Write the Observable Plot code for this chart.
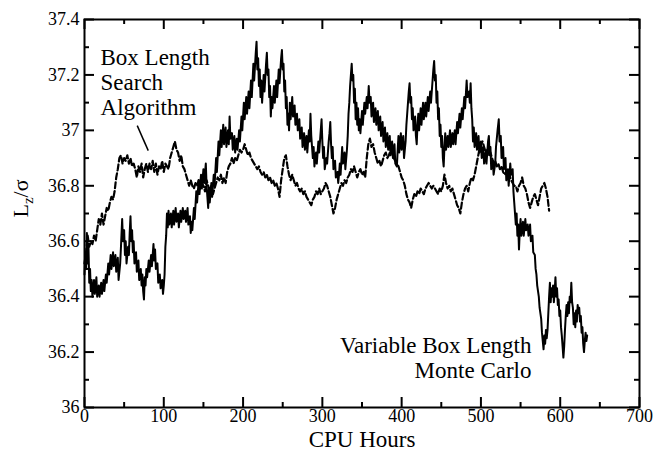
<!DOCTYPE html>
<html><head><meta charset="utf-8">
<script src="https://cdn.jsdelivr.net/npm/d3@7"></script>
<script src="https://cdn.jsdelivr.net/npm/@observablehq/plot@0.6"></script>
<style>body{margin:0;background:#fff}</style>
</head><body><div id="chart"></div>
<script>
// Variable Box Length Monte Carlo (solid)
const mcHours = [0,1,2,3,4,5,6,7,8,9,10,12,13,15,16,18,19,21,22,24,25,27,28,30,31,33,34,36,37,39,40,42,43,45,46,47.5,48.5,50,51,52,53,55,56,57,58,59,60,61,62,63,65,66,68,69,71,72,73,74,75,76,77,78,79,81,82,84,85,87,88,89,90,92,93,95,96,98,99,100,101,102,103,104,105,106,107,109,110,112,113,115,116,118,119,121,122,124,125,127,128,130,131,133,134,135,136,138,139,141,142,144,145,147,148,150,151,153,154,155,156,157,158,160,161,163,164,166,167,169,170,172,173,175,176,178,179,181,182,183,184,186,187,189,190,192,193,195,196,198,199,201,202,204,205,207,208,210,211,213,214,216,217,218,219,220,221,222,223,224,226,227,229,230,231,232,233,234,235,236,237,239,240,242,243,245,246,248,249,250,251,252,253,254,255,256,257,258,259,260,262,263,265,266,268,269,271,272,274,275,277,278,280,281,283,284,285,286,287,288,289,290,292,293,295,296,298,299,300,301,302,303,305,306,308,309,310,311,312,313,314,316,317,319,320,321,322,323,325,326,328,329,331,332,333,334,335,336,337,338,339,340,341,342,343,344,345,346,347,348,350,351,353,354,356,357,358.5,359.5,361,362,364,365,367,368,370,371,373,374,376,377,379,380,382,383,385,386,388,389,391,392,394,395,396,397,399,400,402,403,405,406,408,409,410,411,412,413,414,415,417,418,419,420,421,422,424,425,427,428,430,431,433,434,436,437,439,440,441,442,443,444,445,446,447,448,449,450,451,452,453,454,455,456,458,459,461,462,464,465,467,468,470,471,473,474,476,477,479,480,482,483,485,486,487,488,489,490,491,492,494,495,497,498,500,501,503,504,506,507,509,510,511,512,513,515,516,518,519,521,522.5,523.5,525,526,528,529,531,532,534,535,537,538,540,541,542,543,544,545,546,547,548,549,550,551,553,554,556,557,559,560,562,563,565,566,568,569,570,571,573,574,576,577,578,579,580,581,582,583,584,585,586,587,588,589,590,591,592,593,594,595,596,597,598,599,600,601,602,603,604,605,606,607,608,609,610,611,612,613,614,615,616,617,618,619,620,621,622,623,624,625,626,627,628,629,630,631,632,633,634];
const mcLz = [36.48,36.56,36.50,36.63,36.52,36.58,36.45,36.50,36.42,36.46,36.40,36.46,36.41,36.47,36.40,36.44,36.40,36.45,36.41,36.46,36.42,36.48,36.45,36.52,36.48,36.55,36.50,36.56,36.51,36.55,36.49,36.54,36.46,36.52,36.58,36.68,36.60,36.64,36.55,36.60,36.52,36.58,36.55,36.63,36.69,36.60,36.64,36.56,36.60,36.52,36.56,36.49,36.53,36.46,36.50,36.44,36.48,36.42,36.39,36.47,36.44,36.50,36.47,36.53,36.49,36.55,36.51,36.59,36.53,36.57,36.50,36.52,36.45,36.48,36.43,36.46,36.41,36.44,36.48,36.58,36.62,36.70,36.65,36.71,36.66,36.70,36.65,36.71,36.66,36.72,36.67,36.70,36.65,36.71,36.67,36.72,36.68,36.71,36.67,36.72,36.66,36.69,36.63,36.67,36.64,36.72,36.68,36.78,36.74,36.82,36.77,36.84,36.79,36.86,36.81,36.88,36.80,36.76,36.72,36.79,36.74,36.81,36.76,36.84,36.80,36.90,36.85,36.96,36.91,37.00,36.94,37.02,36.95,37.01,36.94,37.00,36.95,37.05,36.97,36.99,36.93,36.98,36.92,36.97,36.93,37.00,36.96,37.05,37.00,37.10,37.04,37.12,37.06,37.14,37.08,37.18,37.12,37.24,37.18,37.28,37.32,37.22,37.26,37.16,37.22,37.12,37.18,37.10,37.20,37.14,37.24,37.28,37.20,37.22,37.12,37.16,37.05,37.12,37.08,37.16,37.10,37.18,37.12,37.22,37.17,37.26,37.29,37.22,37.24,37.14,37.18,37.08,37.12,37.02,37.06,37.00,37.10,37.04,37.12,37.05,37.09,37.02,37.06,37.00,37.04,36.97,37.01,36.94,36.99,36.93,36.98,36.92,37.00,36.96,37.06,36.98,36.94,36.90,36.94,36.87,36.92,36.88,36.96,36.92,37.00,37.04,36.96,36.90,36.94,36.86,36.90,36.88,36.96,36.99,37.03,36.95,36.90,36.94,36.86,36.89,36.83,36.85,36.81,36.84,36.88,36.84,36.94,36.88,36.92,36.86,36.93,36.98,37.06,37.10,37.16,37.20,37.24,37.18,37.20,37.10,37.15,37.04,37.10,37.02,37.08,37.00,37.04,36.99,37.07,37.02,37.10,37.06,37.12,37.08,37.16,37.10,37.12,37.05,37.10,37.03,37.08,37.02,37.07,37.00,37.05,36.98,37.03,36.96,37.01,36.94,36.99,36.93,36.98,36.91,36.96,36.90,36.95,36.88,36.87,36.93,36.98,36.92,36.99,36.93,36.98,36.90,36.96,37.02,37.10,37.14,37.17,37.10,37.12,37.04,37.08,37.00,37.05,36.98,36.95,37.02,37.06,37.00,37.08,37.02,37.10,37.04,37.10,37.05,37.12,37.07,37.14,37.10,37.18,37.22,37.25,37.18,37.20,37.10,37.14,37.04,37.08,36.98,37.02,36.94,36.98,36.90,36.87,36.94,36.99,36.93,36.98,36.94,37.00,36.94,36.99,36.95,37.00,36.95,37.03,36.99,37.06,37.01,37.08,37.04,37.12,37.08,37.18,37.12,37.14,37.10,37.17,37.08,37.04,36.96,37.01,36.94,36.99,36.93,36.98,36.92,36.96,36.90,36.94,36.88,36.92,36.88,36.96,36.98,36.91,36.94,36.86,36.89,36.84,36.88,36.94,37.00,37.04,36.96,36.98,36.90,36.94,36.86,36.90,36.82,36.86,36.80,36.88,36.84,36.86,36.78,36.74,36.70,36.66,36.70,36.62,36.66,36.57,36.64,36.68,36.62,36.67,36.62,36.68,36.64,36.66,36.62,36.66,36.60,36.62,36.56,36.55,36.50,36.48,36.44,36.40,36.36,36.32,36.27,36.24,36.21,36.26,36.23,36.28,36.25,36.28,36.34,36.40,36.45,36.38,36.43,36.40,36.44,36.38,36.42,36.47,36.40,36.43,36.37,36.39,36.33,36.35,36.29,36.26,36.22,36.18,36.22,36.28,36.33,36.37,36.33,36.38,36.34,36.40,36.38,36.45,36.38,36.36,36.30,36.34,36.29,36.35,36.31,36.37,36.34,36.36,36.31,36.33,36.27,36.29,36.23,36.20,36.24,36.27,36.24,36.26];

// Box Length Search Algorithm (dashed)
const blsHours = [0,2,4,6,8,10,12,14,16,18,20,22,24,26,28,30,32,34,36,38,40,42,44,46,48,50,52,54,56,58,60,62,64,66,68,70,72,74,76,78,80,82,84,86,88,90,92,94,96,98,100,102,104,106,108,110,112,114,116,118,120,122,124,126,128,130,132,134,136,138,140,142,144,146,148,150,152,154,156,158,160,162,164,166,168,170,172,174,176,178,180,182,184,186,188,190,192,194,196,198,200,202,204,206,208,210,212,214,216,218,220,222,224,226,228,230,232,234,236,238,240,242,244,246,248,250,252,254,256,258,260,262,264,266,268,270,272,274,276,278,280,282,284,286,288,290,292,294,296,298,300,302,304,306,308,310,312,314,316,318,320,322,324,326,328,330,332,334,336,338,340,342,344,346,348,350,352,354,356,358,360,362,364,366,368,370,372,374,376,378,380,382,384,386,388,390,392,394,396,398,400,402,404,406,408,410,412,414,416,418,420,422,424,426,428,430,432,434,436,438,440,442,444,446,448,450,452,454,456,458,460,462,464,466,468,470,472,474,476,478,480,482,484,486,488,490,492,494,496,498,500,502,504,506,508,510,512,514,516,518,520,522,524,526,528,530,532,534,536,538,540,542,544,546,548,550,552,554,556,558,560,562,564,566,568,570,572,574,576,578,580,582,584,586];
const blsLz = [36.52,36.56,36.62,36.58,36.60,36.59,36.62,36.60,36.64,36.68,36.66,36.70,36.66,36.69,36.72,36.71,36.74,36.76,36.75,36.78,36.83,36.86,36.90,36.91,36.88,36.90,36.89,36.91,36.88,36.90,36.87,36.88,36.86,36.83,36.87,36.85,36.88,36.83,36.86,36.88,36.85,36.88,36.86,36.89,36.85,36.88,36.84,36.87,36.86,36.89,36.85,36.88,36.87,36.86,36.90,36.92,36.94,36.96,36.93,36.92,36.89,36.91,36.87,36.86,36.84,36.82,36.80,36.82,36.80,36.79,36.81,36.80,36.82,36.79,36.81,36.80,36.78,36.82,36.80,36.78,36.80,36.77,36.79,36.81,36.83,36.82,36.84,36.81,36.83,36.81,36.85,36.87,36.88,36.90,36.88,36.90,36.89,36.91,36.93,36.92,36.93,36.95,36.93,36.91,36.92,36.90,36.89,36.88,36.87,36.86,36.87,36.85,36.84,36.85,36.83,36.84,36.82,36.83,36.81,36.82,36.80,36.81,36.79,36.76,36.82,36.86,36.90,36.91,36.87,36.84,36.82,36.84,36.82,36.80,36.81,36.79,36.78,36.79,36.77,36.78,36.76,36.75,36.74,36.73,36.75,36.76,36.78,36.77,36.79,36.77,36.78,36.79,36.81,36.80,36.78,36.76,36.73,36.70,36.72,36.75,36.77,36.79,36.81,36.80,36.82,36.81,36.83,36.84,36.86,36.85,36.87,36.85,36.83,36.85,36.86,36.84,36.85,36.83,36.90,36.95,36.97,36.94,36.95,36.92,36.90,36.88,36.89,36.87,36.89,36.91,36.92,36.90,36.91,36.93,36.92,36.90,36.89,36.88,36.87,36.85,36.83,36.82,36.80,36.77,36.75,36.74,36.72,36.75,36.77,36.76,36.78,36.77,36.79,36.78,36.77,36.79,36.80,36.81,36.80,36.79,36.80,36.79,36.78,36.77,36.79,36.78,36.80,36.84,36.81,36.79,36.80,36.78,36.79,36.77,36.75,36.73,36.72,36.70,36.74,36.77,36.79,36.80,36.78,36.81,36.83,36.82,36.84,36.87,36.90,36.93,36.95,36.96,36.94,36.92,36.93,36.91,36.92,36.90,36.88,36.89,36.87,36.88,36.86,36.87,36.85,36.84,36.85,36.83,36.84,36.82,36.81,36.80,36.80,36.78,36.80,36.81,36.83,36.80,36.79,36.77,36.74,36.72,36.74,36.76,36.77,36.75,36.73,36.76,36.79,36.80,36.81,36.79,36.76,36.71];

// Axis ticks and labels
const xMajor = [0,100,200,300,400,500,600,700];
const xMinor = [50,150,250,350,450,550,650];
const yMajor = [36,36.2,36.4,36.6,36.8,37,37.2,37.4];
const yMinor = [36.1,36.3,36.5,36.7,36.9,37.1,37.3];

// Annotations
const noteBLS = {x: 20.2, y: 37.054, text: "Box Length\nSearch\nAlgorithm"};
const noteMC = {x: 563.8, y: 36.108, text: "Variable Box Length\nMonte Carlo"};
const pointer = {x1: 66.5, y1: 37.017, x2: 80.4, y2: 36.927};

const mc = mcHours.map((h, i) => ({h, lz: mcLz[i]}));
const bls = blsHours.map((h, i) => ({h, lz: blsLz[i]}));

const W = 655, H = 451, mL = 84, mR = 16, mT = 19, mB = 44;
const iw = W - mL - mR, ih = H - mT - mB;
const serif = "Liberation Serif";

const chart = Plot.plot({
  width: W, height: H,
  marginLeft: mL, marginRight: mR, marginTop: mT, marginBottom: mB,
  style: {fontFamily: serif, background: "white", color: "black"},
  x: {domain: [0, 700], label: null},
  y: {domain: [36, 37.4], label: null},
  marks: [
    Plot.axisX(xMajor, {tickSize: 0, tickPadding: 2, fontSize: 18, fontFamily: serif, label: null, tickFormat: d3.format("d")}),
    Plot.axisY(yMajor, {tickSize: 0, tickPadding: 5, fontSize: 18, fontFamily: serif, label: null, tickFormat: d3.format("~g")}),
    Plot.tickX(xMajor, {insetTop: ih - 10, strokeWidth: 2}),
    Plot.tickX(xMinor, {insetTop: ih - 5, strokeWidth: 2}),
    Plot.tickX(xMajor, {insetBottom: ih - 10, strokeWidth: 2}),
    Plot.tickX(xMinor, {insetBottom: ih - 5, strokeWidth: 2}),
    Plot.tickY(yMajor, {insetRight: iw - 10, strokeWidth: 2}),
    Plot.tickY(yMinor, {insetRight: iw - 5, strokeWidth: 2}),
    Plot.tickY(yMajor, {insetLeft: iw - 10, strokeWidth: 2}),
    Plot.tickY(yMinor, {insetLeft: iw - 5, strokeWidth: 2}),
    Plot.line(bls, {x: "h", y: "lz", stroke: "black", strokeWidth: 2.2, strokeDasharray: "6,3"}),
    Plot.line(mc, {x: "h", y: "lz", stroke: "black", strokeWidth: 2}),
    Plot.frame({stroke: "black", strokeWidth: 2}),
    Plot.text([noteBLS], {x: "x", y: "y", text: "text", textAnchor: "start", lineAnchor: "bottom", lineHeight: 1.087, fontSize: 23, fontFamily: serif, fill: "black"}),
    Plot.text([noteMC], {x: "x", y: "y", text: "text", textAnchor: "end", lineAnchor: "bottom", lineHeight: 1.06, fontSize: 23, fontFamily: serif, fill: "black"}),
    Plot.link([pointer], {x1: "x1", y1: "y1", x2: "x2", y2: "y2", stroke: "black", strokeWidth: 1.5}),
    Plot.text(["CPU Hours"], {frameAnchor: "bottom", lineAnchor: "bottom", dy: 39, fontSize: 23, fontFamily: serif, fill: "black"}),
    Plot.text(["Lz/σ"], {frameAnchor: "left", rotate: -90, dx: -64, dy: 4, fontSize: 22, fontFamily: serif, fill: "black"})
  ]
});
document.getElementById("chart").appendChild(chart);

// force the serif face on every text element
d3.select(chart).selectAll("text, tspan").style("font-family", serif);

// subscript z in the y-axis label
d3.select(chart).selectAll("text").filter(function() { return this.textContent === "Lz/σ"; })
  .each(function() {
    const t = d3.select(this);
    t.text(null);
    t.append("tspan").text("L");
    t.append("tspan").attr("font-size", "15px").attr("dy", "5").text("z");
    t.append("tspan").attr("dy", "-5").text("/σ");
  });
</script>
</body></html>
